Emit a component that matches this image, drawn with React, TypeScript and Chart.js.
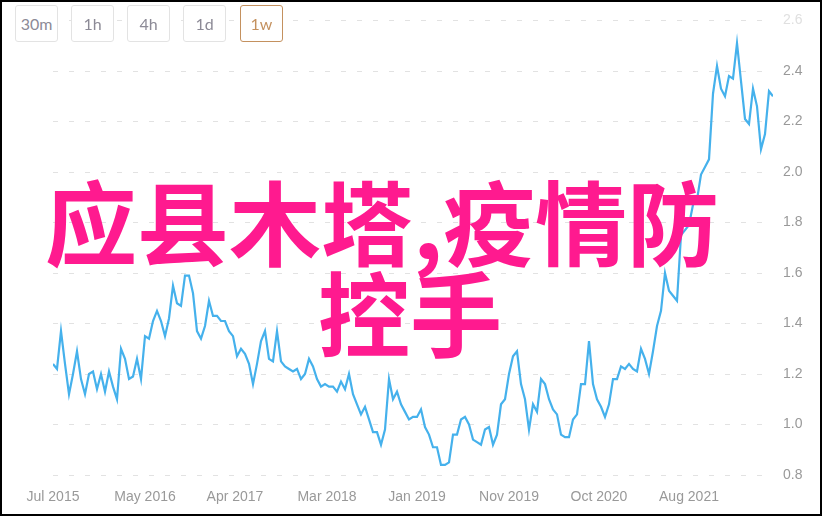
import React, { useEffect, useRef } from "react";
import { Chart, registerables } from "chart.js";

Chart.register(...registerables);

// one value every 2 weeks, starting Jul 2015
const weeksPerPoint = 2;
const prices = [
  1.24, 1.22, 1.37, 1.24, 1.12, 1.2, 1.29, 1.18, 1.12, 1.2,
  1.21, 1.14, 1.2, 1.13, 1.21, 1.15, 1.1, 1.3, 1.26, 1.18,
  1.19, 1.26, 1.18, 1.35, 1.34, 1.41, 1.45, 1.41, 1.35, 1.42,
  1.55, 1.48, 1.47, 1.59, 1.59, 1.52, 1.37, 1.34, 1.39, 1.49,
  1.43, 1.43, 1.41, 1.41, 1.37, 1.35, 1.27, 1.3, 1.28, 1.24,
  1.16, 1.24, 1.33, 1.37, 1.26, 1.25, 1.37, 1.25, 1.23, 1.22,
  1.21, 1.22, 1.18, 1.2, 1.26, 1.23, 1.18, 1.15, 1.16, 1.15,
  1.15, 1.13, 1.17, 1.14, 1.2, 1.12, 1.08, 1.04, 1.07, 1.02,
  0.97, 0.97, 0.92, 0.98, 1.18, 1.1, 1.13, 1.08, 1.05, 1.02,
  1.03, 1.03, 1.06, 0.99, 0.96, 0.91, 0.91, 0.84, 0.84, 0.85,
  0.96, 0.96, 1.02, 1.03, 1.0, 0.94, 0.93, 0.92, 0.98, 0.99,
  0.92, 0.96, 1.08, 1.1, 1.2, 1.27, 1.29, 1.16, 1.1, 0.98,
  1.08, 1.05, 1.18, 1.16, 1.1, 1.06, 1.04, 0.96, 0.95, 0.95,
  1.02, 1.04, 1.16, 1.16, 1.33, 1.16, 1.1, 1.07, 1.03, 1.08,
  1.18, 1.18, 1.23, 1.22, 1.24, 1.22, 1.21, 1.3, 1.26, 1.2,
  1.29, 1.39, 1.45, 1.6, 1.53, 1.51, 1.49, 1.75, 1.77, 1.79,
  1.87, 1.89, 1.99, 2.02, 2.05, 2.31, 2.42, 2.33, 2.3, 2.38,
  2.37, 2.51, 2.36, 2.21, 2.19, 2.33, 2.26, 2.09, 2.15, 2.32,
  2.3,
];

const xMaxWeeks = 360;
const tickWeeks = [0, 46, 91, 137, 182, 228, 273, 318];
const tickLabels = [
  "Jul 2015",
  "May 2016",
  "Apr 2017",
  "Mar 2018",
  "Jan 2019",
  "Nov 2019",
  "Oct 2020",
  "Aug 2021",
];
const yTicks = [0.8, 1.0, 1.2, 1.4, 1.6, 1.8, 2.0, 2.2, 2.4, 2.6];
const intervals = ["30m", "1h", "4h", "1d", "1w"];
const activeInterval = "1w";
const titleLines = ["应县木塔,疫情防", "控手"];

export default function App() {
  const canvasRef = useRef<HTMLCanvasElement | null>(null);

  useEffect(() => {
    const canvas = canvasRef.current;
    if (!canvas) return;
    const chart = new Chart(canvas, {
      type: "line",
      data: {
        datasets: [
          {
            data: prices.map((v, i) => ({ x: i * weeksPerPoint, y: v })),
            borderColor: "#45b1ec",
            borderWidth: 2.2,
            pointRadius: 0,
            tension: 0,
            fill: false,
          },
        ],
      },
      options: {
        animation: false,
        responsive: false,
        maintainAspectRatio: false,
        layout: { padding: { left: 53, top: 20.5, right: 0, bottom: 0 } },
        plugins: { legend: { display: false }, tooltip: { enabled: false } },
        scales: {
          x: {
            type: "linear",
            min: 0,
            max: xMaxWeeks,
            grid: { display: false, drawTicks: false },
            border: { display: false },
            afterBuildTicks: (s: any) => {
              s.ticks = tickWeeks.map((v) => ({ value: v }));
            },
            afterFit: (s: any) => {
              s.height = 42;
            },
            ticks: {
              autoSkip: false,
              maxRotation: 0,
              color: "#999",
              padding: 14,
              font: { family: "Arial, 'Liberation Sans'", size: 14 },
              callback: (v: any) => {
                const k = tickWeeks.indexOf(Number(v));
                return k >= 0 ? tickLabels[k] : "";
              },
            },
          },
          y: {
            position: "right",
            min: 0.8,
            max: 2.6,
            afterBuildTicks: (s: any) => {
              s.ticks = yTicks.map((v) => ({ value: v }));
            },
            afterFit: (s: any) => {
              s.width = 50;
            },
            grid: { color: "#e2e2e2", lineWidth: 1, drawTicks: false },
            border: { display: false, dash: [5, 11] },
            ticks: {
              padding: 10,
              font: { family: "Arial, 'Liberation Sans'", size: 14 },
              color: (ctx: any) => (ctx.tick && ctx.tick.value >= 2.59 ? "#e0e0e0" : "#999"),
              callback: (v: any) => Number(v).toFixed(1),
            },
          },
        },
      },
    });
    return () => chart.destroy();
  }, []);

  const btnLefts = [15, 71, 127, 183, 240];

  return (
    <div style={{ position: "absolute", left: 0, top: 0, width: 823, height: 517, background: "#fff", overflow: "hidden" }}>
      <canvas ref={canvasRef} width={823} height={517} style={{ position: "absolute", left: 0, top: 0, width: 823, height: 517 }} />
      {intervals.map((label, i) => {
        const active = label === activeInterval;
        return (
          <div
            key={label}
            style={{
              position: "absolute",
              left: btnLefts[i],
              top: 5,
              width: 43,
              height: 37,
              boxSizing: "border-box",
              border: `1px solid ${active ? "#c4915f" : "#e3e3e3"}`,
              borderRadius: 3,
              background: "#fff",
              color: active ? "#c4915f" : "#8c8a96",
              fontFamily: "Lato, 'Open Sans', sans-serif",
              fontSize: 16,
              display: "flex",
              alignItems: "center",
              justifyContent: "center",
            }}
          >
            {label}
          </div>
        );
      })}
      <div
        style={{
          position: "absolute",
          left: 45,
          top: 173,
          fontFamily: "'Noto Sans CJK SC', sans-serif",
          fontWeight: 700,
          fontSize: 92,
          lineHeight: "92px",
          color: "#ff1a8f",
          whiteSpace: "nowrap",
        }}
      >
        {titleLines[0]}
      </div>
      <div
        style={{
          position: "absolute",
          left: 318,
          top: 264,
          fontFamily: "'Noto Sans CJK SC', sans-serif",
          fontWeight: 700,
          fontSize: 92,
          lineHeight: "92px",
          color: "#ff1a8f",
          whiteSpace: "nowrap",
        }}
      >
        {titleLines[1]}
      </div>
      <div
        style={{
          position: "absolute",
          left: 0,
          top: 0,
          width: 822,
          height: 516,
          boxSizing: "border-box",
          border: "2px solid #000",
          pointerEvents: "none",
        }}
      />
    </div>
  );
}
